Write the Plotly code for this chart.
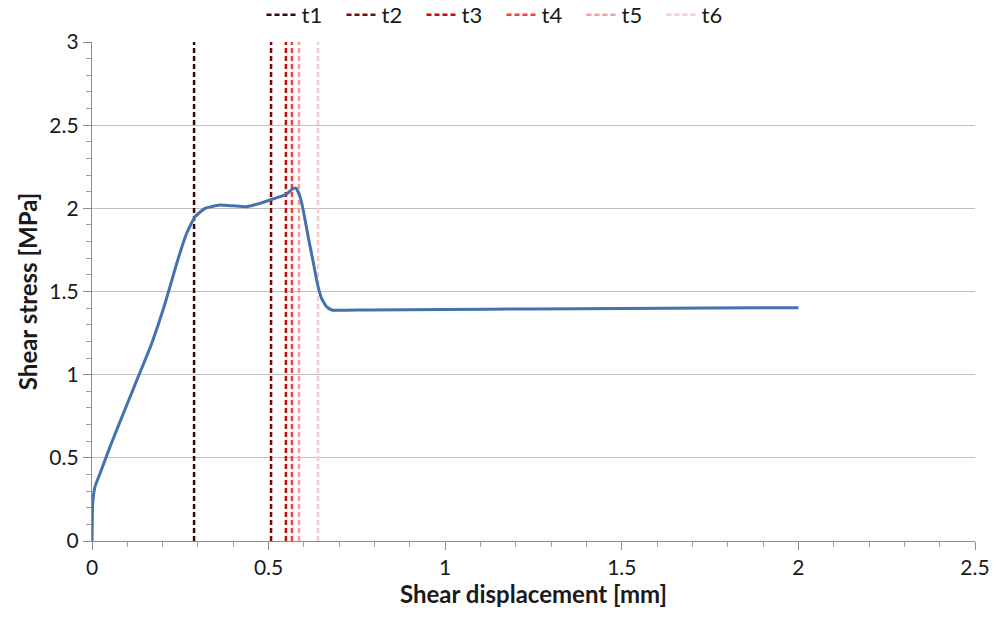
import plotly.graph_objects as go

# Shear curve
disp = [0.0, 0.002, 0.0085, 0.023, 0.051, 0.089, 0.131, 0.169, 0.207, 0.240, 0.268,
        0.292, 0.320, 0.362, 0.400, 0.438, 0.475, 0.504, 0.532, 0.551, 0.570, 0.578,
        0.589, 0.598, 0.612, 0.627, 0.639, 0.650, 0.664, 0.679, 0.720, 0.787, 1.0,
        1.25, 1.5, 1.75, 2.0]
stress = [0.0, 0.227, 0.327, 0.407, 0.567, 0.768, 0.988, 1.188, 1.429, 1.670, 1.850,
          1.950, 2.000, 2.020, 2.015, 2.010, 2.030, 2.050, 2.070, 2.085, 2.120, 2.120,
          2.070, 1.990, 1.830, 1.670, 1.539, 1.459, 1.409, 1.389, 1.388, 1.389, 1.392,
          1.395, 1.398, 1.401, 1.403]

time_labels = ["t1", "t2", "t3", "t4", "t5", "t6"]
time_disp = [0.289, 0.507, 0.549, 0.566, 0.586, 0.640]
time_colors = ["#3f0606", "#7a0a0a", "#c80c0c", "#f0403c", "#f79a9a", "#fbcaca"]

fig = go.Figure()
for lab, xv, col in zip(time_labels, time_disp, time_colors):
    fig.add_trace(go.Scatter(x=[xv, xv], y=[0, 3], mode="lines", name=lab,
                             line=dict(color=col, width=2.5, dash="5px,3px")))

fig.add_trace(go.Scatter(x=disp, y=stress, mode="lines", showlegend=False,
                         line=dict(color="#4472ad", width=3, shape="spline", smoothing=0.4)))

font = "Lato, 'Open Sans', sans-serif"
fig.update_layout(
    width=1003, height=620,
    margin=dict(l=92, r=28, t=42, b=79, autoexpand=False),
    paper_bgcolor="white", plot_bgcolor="white",
    font=dict(family=font, size=21, color="#1a1a1a"),
    legend=dict(orientation="h", x=0.5, xanchor="center", xref="container",
                y=0.976, yanchor="middle", yref="container",
                font=dict(size=22), itemwidth=30, tracegroupgap=0,
                entrywidth=35, entrywidthmode="pixels",
                traceorder="normal", bgcolor="rgba(0,0,0,0)"),
    showlegend=True,
)
fig.update_xaxes(range=[0, 2.5], dtick=0.5, showgrid=False, zeroline=False,
                 showline=True, linecolor="#8c8c8c", linewidth=1.3,
                 ticks="outside", ticklen=8, tickcolor="#8c8c8c",
                 minor=dict(ticks="outside", dtick=0.1, ticklen=5, tickcolor="#a0a0a0"),
                 tickfont=dict(size=21),
                 title=dict(text="<b>Shear displacement [mm]</b>", font=dict(size=24), standoff=6))
fig.update_yaxes(range=[0, 3], dtick=0.5, showgrid=True, gridcolor="#c0c0c0", gridwidth=1.3,
                 zeroline=False, showline=True, linecolor="#8c8c8c", linewidth=1.3,
                 ticks="outside", ticklen=8, tickcolor="#8c8c8c",
                 minor=dict(ticks="outside", dtick=0.1, ticklen=5, tickcolor="#a0a0a0"),
                 tickfont=dict(size=21),
                 title=dict(text="<b>Shear stress [MPa]</b>", font=dict(size=24), standoff=4))

fig.write_html("out.html")
